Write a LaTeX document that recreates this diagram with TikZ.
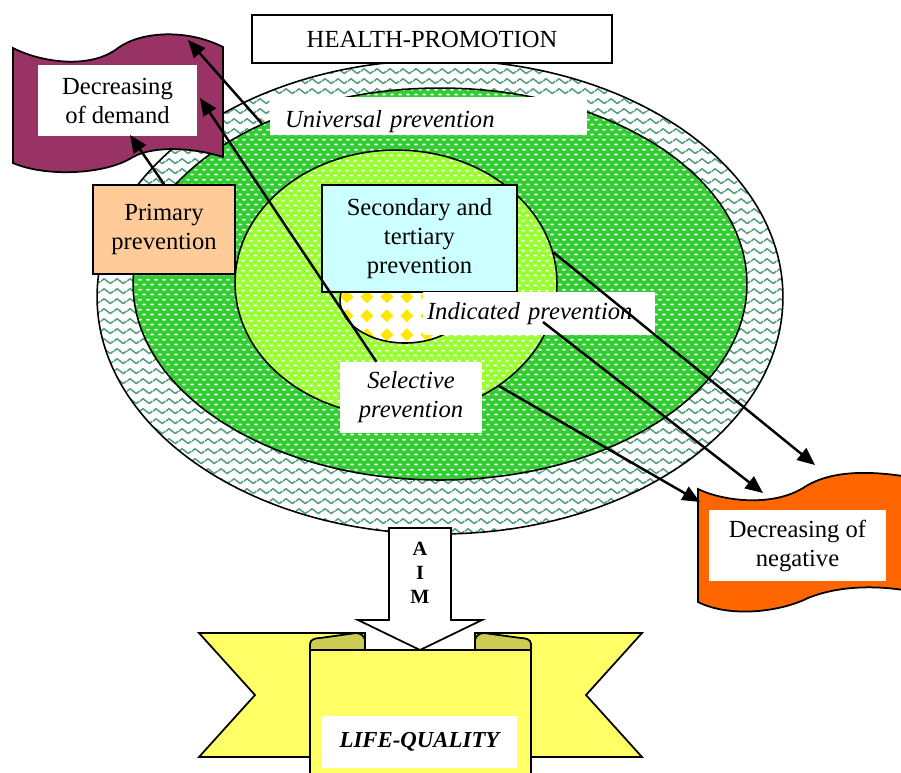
\documentclass[tikz,border=0pt]{standalone}
\usepackage{fontspec}
\setmainfont{Liberation Serif}
\usetikzlibrary{shapes.geometric}
\usetikzlibrary{patterns}
\usetikzlibrary{arrows.meta}
\definecolor{wavegreen}{RGB}{85,160,125}
\definecolor{darkgreen}{RGB}{51,204,51}
\definecolor{lightgreen}{RGB}{153,255,51}
\definecolor{paleblue}{RGB}{204,255,255}
\definecolor{peach}{RGB}{255,204,153}
\definecolor{plum}{RGB}{153,51,102}
\definecolor{flagorange}{RGB}{255,102,0}
\definecolor{ribbon}{RGB}{255,255,102}
\definecolor{ribbondark}{RGB}{204,204,85}
\definecolor{dmdyellow}{RGB}{255,232,0}
\pgfdeclarepatternformonly{wavesg}{\pgfpointorigin}{\pgfpoint{7.2pt}{5.6pt}}{\pgfpoint{7.2pt}{5.6pt}}{%
  \pgfsetlinewidth{0.9pt}\pgfsetroundjoin
  \pgfpathmoveto{\pgfpoint{0pt}{2.8pt}}\pgfpathlineto{\pgfpoint{1.8pt}{4.2pt}}
  \pgfpathlineto{\pgfpoint{5.4pt}{1.4pt}}\pgfpathlineto{\pgfpoint{7.2pt}{2.8pt}}
  \pgfusepath{stroke}}
\pgfdeclarepatternformonly{dotsw}{\pgfpointorigin}{\pgfpoint{4.5pt}{5.6pt}}{\pgfpoint{4.5pt}{5.6pt}}{%
  \pgfsetlinewidth{1pt}\pgfsetroundcap
  \pgfpathmoveto{\pgfpoint{0.6pt}{1.4pt}}\pgfpathlineto{\pgfpoint{1.8pt}{1.4pt}}
  \pgfpathmoveto{\pgfpoint{2.85pt}{4.2pt}}\pgfpathlineto{\pgfpoint{4.05pt}{4.2pt}}
  \pgfusepath{stroke}}
\pgfdeclarepatternformonly{diam}{\pgfpointorigin}{\pgfpoint{11.3pt}{10.6pt}}{\pgfpoint{11.3pt}{10.6pt}}{%
  \pgfpathmoveto{\pgfpoint{5.65pt}{1.6pt}}\pgfpathlineto{\pgfpoint{9.4pt}{5.3pt}}
  \pgfpathlineto{\pgfpoint{5.65pt}{9pt}}\pgfpathlineto{\pgfpoint{1.9pt}{5.3pt}}\pgfpathclose
  \pgfusepath{fill}}
\tikzset{>={Triangle[length=10pt,width=8.5pt]}}
\tikzset{
  ring/.style={ellipse, draw, line width=0.9pt, inner sep=0pt},
  pbox/.style={rectangle, draw, line width=1pt, inner sep=0pt, align=center, font=\fontsize{14}{16.5}\selectfont},
  lbl/.style={rectangle, fill=white, inner sep=0pt, align=center, font=\fontsize{14}{16.5}\selectfont},
  itl/.style={font=\fontsize{14}{16.5}\selectfont\itshape},
  arr/.style={->, line width=1.4pt},
}

\begin{document}
\begin{tikzpicture}[x=0.02cm,y=-0.02cm]
	\useasboundingbox (0,0) rectangle (901,772);
	\node[ring, preaction={fill=white}, pattern=wavesg, pattern color=wavegreen, minimum width=13.72cm, minimum height=9.48cm] (outer) at (440,297) {};
	\node[ring, preaction={fill=darkgreen}, pattern=dotsw, pattern color=white, minimum width=12.28cm, minimum height=7.84cm] (dark) at (440,284) {};
	\node[ring, preaction={fill=lightgreen}, pattern=dotsw, pattern color=white, minimum width=6.44cm, minimum height=5.32cm] (light) at (396,283) {};
	\node[ring, preaction={fill=white}, pattern=diam, pattern color=dmdyellow, minimum width=2.6cm, minimum height=1.72cm] (yell) at (405,300) {};
	\node[pbox, fill=white, minimum width=7.2cm, minimum height=0.96cm] (hp) at (432,39) {HEALTH-PROMOTION};
	\node[lbl, itl, minimum width=6.34cm, minimum height=0.76cm, text width=5.74cm, inner xsep=0.3cm, align=left, text height=13pt, text depth=0pt] (univ) at (428.5,116) {Universal prevention};
	\node[pbox, fill=paleblue, minimum width=3.9cm, minimum height=2.14cm] (sec) at (419.5,238.5) {Secondary and\\tertiary\\prevention};
	\node[lbl, itl, minimum width=4.64cm, minimum height=0.86cm, text width=4.48cm, inner xsep=0.08cm, align=left] (ind) at (539,313.5) {Indicated prevention};
	\node[lbl, itl, minimum width=2.84cm, minimum height=1.42cm] (sel) at (411,397.5) {Selective\\prevention};
	\node[pbox, fill=peach, minimum width=2.84cm, minimum height=1.78cm] (prim) at (164,229.5) {Primary\\prevention};
	\draw[fill=plum, line width=1pt] (13,48) .. controls (40,62) and (90,70) .. (118,48) .. controls (140,32) and (185,28) .. (223,47) -- (223,157) .. controls (195,148) and (155,145) .. (133,157) .. controls (105,175) and (45,177) .. (13,163) -- cycle;
	\node[lbl, minimum width=3.18cm, minimum height=1.42cm] (dmd) at (117.5,100.5) {Decreasing\\of demand};
	\draw[fill=flagorange, line width=1pt] (698,489) .. controls (720,500) and (770,508) .. (803,488) .. controls (830,470) and (870,470) .. (915,478) -- (915,592) .. controls (880,585) and (840,585) .. (808,598) .. controls (780,612) and (730,618) .. (698,602) -- cycle;
	\node[lbl, minimum width=3.54cm, minimum height=1.42cm] (neg) at (797.5,545.5) {Decreasing of\\negative};
	\begin{scope}[line width=1pt]
	  \draw[fill=ribbon] (199,633) -- (365,633) -- (365,757) -- (199,757) -- (255,695) -- cycle;
	  \draw[fill=ribbon] (642,633) -- (475,633) -- (475,757) -- (642,757) -- (586,695) -- cycle;
	  \draw[fill=ribbondark] (310,650) -- (310,644) to[out=90,in=180] (320,638) -- (356,633) to[out=0,in=90] (365,641) -- (365,650) -- cycle;
	  \draw[fill=ribbondark] (531,650) -- (531,644) to[out=90,in=0] (521,638) -- (484,633) to[out=180,in=90] (475,641) -- (475,650) -- cycle;
	  \draw[fill=ribbon] (310,650) rectangle (531,790);
	  \draw[fill=white] (389,528) -- (451,528) -- (451,620) -- (482,620) -- (420,650) -- (358,620) -- (389,620) -- cycle;
	\end{scope}
	\node[font=\fontsize{11.5}{13.6}\selectfont\bfseries, align=center, inner sep=0pt] (aim) at (420,573) {A\\I\\M};
	\node[lbl, font=\fontsize{13}{15}\selectfont\bfseries\itshape, minimum width=3.9cm, minimum height=1.04cm] (life) at (419.5,742) {LIFE-QUALITY};
	\coordinate (t1) at (130,135);
	\coordinate (t2) at (188,40);
	\coordinate (t3) at (200,98);
	\coordinate (t4) at (815,465);
	\coordinate (s5) at (543,322);
	\coordinate (t5) at (763,493);
	\coordinate (t6) at (700,502);
	\draw[arr] (prim.north) -- (t1);
	\draw[arr] (dark.138) -- (t2);
	\draw[arr] (sel.134) -- (t3);
	\draw[arr] (light.11) -- (t4);
	\draw[arr] (s5) -- (t5);
	\draw[arr] (light.-45) -- (t6);
\end{tikzpicture}
\end{document}
